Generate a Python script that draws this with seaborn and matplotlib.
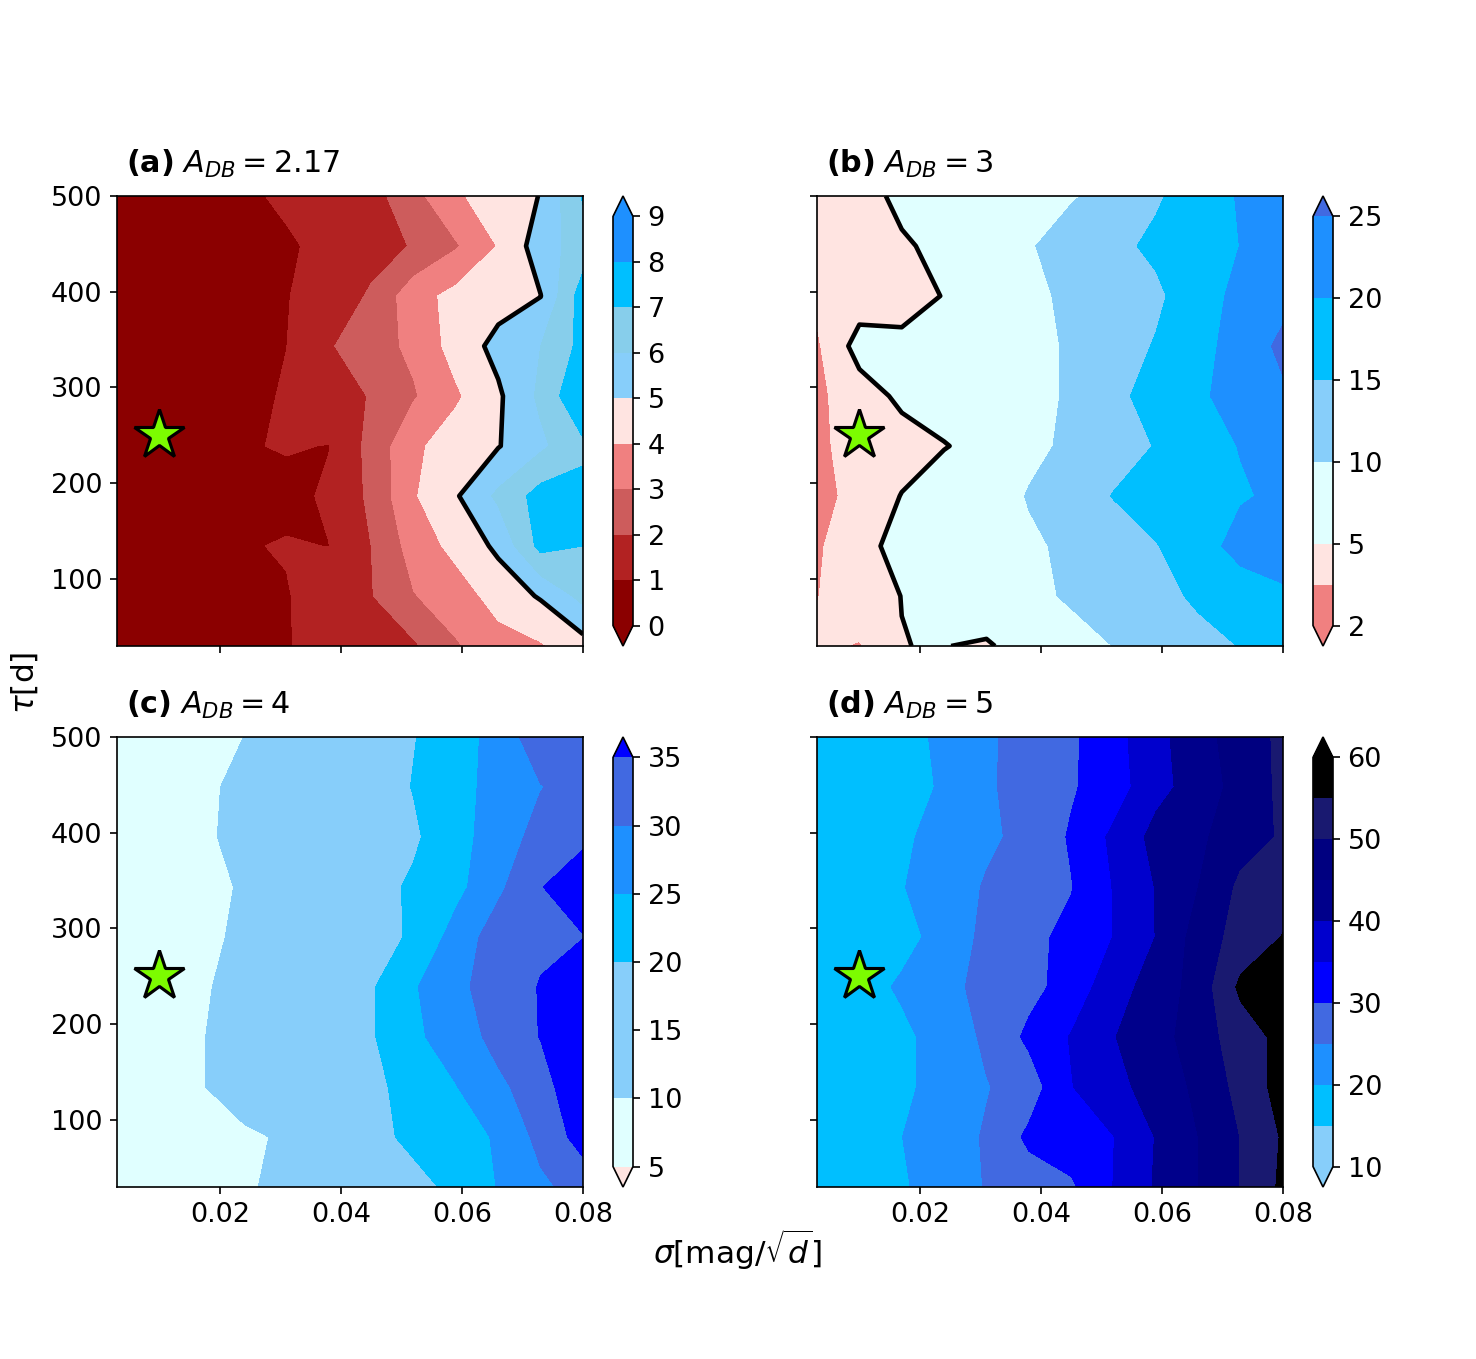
import numpy as np
import matplotlib
matplotlib.use("Agg")
import matplotlib.pyplot as plt
from matplotlib.colors import ListedColormap, BoundaryNorm
import seaborn as sns

sns.set_style("ticks", {"axes.edgecolor": "black", "xtick.color": "black",
                        "ytick.color": "black", "text.color": "black",
                        "axes.labelcolor": "black"})
plt.rcParams["font.family"] = ["DejaVu Sans"]
plt.rcParams["mathtext.fontset"] = "dejavusans"
plt.rcParams["xtick.labelsize"] = 13
plt.rcParams["ytick.labelsize"] = 13

# grid of the simulations
sigma = [0.003, 0.010, 0.017, 0.024, 0.031, 0.038, 0.045, 0.052, 0.059, 0.066, 0.073, 0.080]
tau = [30.0, 82.2, 134.4, 186.7, 238.9, 291.1, 343.3, 395.6, 447.8, 500.0]

# true parameters of the light curve
star_sigma = 0.01
star_tau = 250

# rows go from tau=30 (bottom) up to tau=500 (top)
grid_a = [
    [0.2, 0.3, 0.4, 0.6, 0.95, 1.3, 1.6, 1.85, 2.9, 3.6, 3.9, 4.6],
    [0.2, 0.3, 0.4, 0.6, 0.95, 1.4, 1.95, 2.95, 3.5, 4.4, 5.1, 6.3],
    [0.2, 0.3, 0.4, 0.95, 1.05, 0.99, 2.0, 3.4, 4.3, 5.2, 7.3, 7.0],
    [0.2, 0.3, 0.4, 0.6, 0.8, 1.1, 2.2, 3.9, 4.9, 6.2, 7.4, 7.3],
    [0.2, 0.3, 0.45, 0.95, 1.05, 0.98, 2.3, 3.8, 4.5, 4.95, 5.8, 6.8],
    [0.2, 0.3, 0.45, 0.7, 1.1, 1.6, 2.05, 2.9, 3.85, 4.85, 6.2, 8.0],
    [0.2, 0.3, 0.45, 0.7, 0.99, 1.9, 2.6, 3.2, 4.4, 5.3, 6.0, 7.3],
    [0.2, 0.3, 0.4, 0.6, 0.95, 1.5, 2.1, 3.6, 4.3, 4.6, 4.98, 7.5],
    [0.2, 0.3, 0.4, 0.6, 0.85, 1.3, 1.7, 2.05, 2.9, 4.05, 5.5, 6.5],
    [0.2, 0.3, 0.5, 0.8, 1.2, 1.4, 1.6, 2.7, 3.8, 4.7, 5.02, 7.1],
]
grid_b = [
    [3.8, 3.4, 4.97, 5.1, 4.5, 7.0, 8.5, 10.05, 12.0, 14.0, 15.1, 17.0],
    [3.45, 4.4, 5.02, 6.5, 8.0, 9.0, 10.5, 12.0, 14.0, 15.5, 17.0, 19.5],
    [3.3, 4.5, 5.5, 7.0, 8.5, 9.5, 10.6, 12.5, 14.8, 17.5, 22.0, 21.5],
    [3.0, 4.0, 5.05, 6.8, 8.2, 10.2, 12.5, 15.2, 17.0, 18.5, 19.5, 21.0],
    [3.3, 3.9, 4.4, 4.85, 6.0, 9.2, 10.6, 13.0, 15.2, 18.0, 20.2, 21.5],
    [3.2, 4.3, 5.3, 6.5, 8.0, 9.2, 10.3, 14.0, 16.5, 19.0, 22.5, 24.0],
    [3.3, 5.6, 5.3, 6.5, 8.0, 9.2, 10.3, 13.0, 15.3, 19.2, 21.0, 26.5],
    [3.8, 4.2, 4.5, 5.05, 7.0, 9.4, 10.5, 12.5, 14.2, 17.5, 21.5, 23.0],
    [4.0, 4.4, 4.85, 5.3, 8.0, 9.6, 12.0, 14.0, 15.8, 18.5, 20.05, 23.0],
    [4.0, 4.5, 5.3, 6.5, 7.5, 8.5, 9.6, 11.5, 14.5, 17.0, 20.5, 22.0],
]
grid_c = [
    [6, 7, 8, 9.5, 11, 13.5, 16, 18, 21.5, 25.2, 29, 32],
    [6, 7, 8, 9.3, 10.5, 14, 18, 21.5, 23, 25.5, 31.5, 37],
    [6, 7.5, 9.8, 12, 14.5, 17, 19, 21.5, 24.8, 29, 32.5, 40],
    [6, 7.5, 9.8, 12, 14.5, 17, 19.5, 24, 27.5, 31.5, 35.2, 38],
    [6, 7.5, 9.5, 11.5, 14, 17, 19.5, 24.5, 29, 32, 35.3, 38],
    [6, 7, 9.0, 10.8, 13, 16, 18.5, 20.5, 27, 32.5, 34, 34.9],
    [6, 7, 8.5, 10.5, 13, 15.5, 18, 20.8, 23.5, 29, 34.9, 36.5],
    [6, 7.2, 9.3, 11.2, 13, 15, 17, 19.2, 23.5, 27, 32, 34.5],
    [6, 7, 9.2, 11, 13, 15.5, 17.5, 20.2, 23.5, 26.5, 29.8, 32],
    [6, 7, 8.5, 10.02, 12.5, 15, 17.5, 19.8, 22.5, 27, 33, 34],
]
grid_d = [
    [16, 17.5, 19.5, 22, 25.3, 27.5, 29.2, 35.1, 40.5, 45, 50.1, 56],
    [16, 17.5, 19.95, 22.5, 25.5, 31, 33, 34.9, 40.2, 45, 50.1, 55.5],
    [16, 17.5, 19.2, 21.5, 24.7, 27.5, 34.8, 38.5, 42, 46, 51.5, 57],
    [16, 17.5, 19.2, 21.5, 26, 31, 35.3, 39.8, 43, 47.5, 52.5, 56.5],
    [16.5, 18.5, 20.5, 23.5, 26.5, 28.5, 32, 38, 42, 47, 56, 58],
    [16, 17.5, 18.9, 21.2, 26.5, 29, 31, 35.1, 40.1, 47, 52, 55.2],
    [16, 17.5, 19.8, 22, 25.5, 27.5, 29.8, 35.2, 40.2, 45, 51, 53],
    [16, 17.5, 19.3, 21.5, 24.0, 26.5, 30.5, 36, 41.5, 44, 48, 50.5],
    [16, 17.5, 19, 20.3, 24.3, 27, 29.5, 32.5, 38.5, 42, 47, 51],
    [16, 17.5, 18.8, 20.7, 24, 27.5, 29.2, 33.2, 38.5, 43, 47.5, 51],
]

a_db = ["2.17", "3", "4", "5"]

# contour levels and colours of each panel
levels_a = [0, 1, 2, 3, 4, 5, 6, 7, 8, 9]
colors_a = ["darkred", "firebrick", "indianred", "lightcoral", "mistyrose",
            "lightskyblue", "skyblue", "deepskyblue", "dodgerblue"]
levels_b = [2, 3.5, 5, 7.5, 10, 12.5, 15, 17.5, 20, 22.5, 25]
colors_b = ["lightcoral", "mistyrose", "lightcyan", "lightcyan", "lightskyblue",
            "lightskyblue", "deepskyblue", "deepskyblue", "dodgerblue", "dodgerblue"]
levels_c = [5, 10, 15, 20, 25, 30, 35]
colors_c = ["lightcyan", "lightskyblue", "lightskyblue", "deepskyblue", "dodgerblue", "royalblue"]
levels_d = [10, 15, 20, 25, 30, 35, 40, 45, 50, 55, 60]
colors_d = ["lightskyblue", "deepskyblue", "dodgerblue", "royalblue", "blue",
            "mediumblue", "darkblue", "navy", "midnightblue", "black"]

panels = [
    ("a", grid_a, levels_a, colors_a, "darkred", "dodgerblue", list(range(10)), True),
    ("b", grid_b, levels_b, colors_b, "lightcoral", "royalblue", [2, 5, 10, 15, 20, 25], True),
    ("c", grid_c, levels_c, colors_c, "mistyrose", "blue", [5, 10, 15, 20, 25, 30, 35], False),
    ("d", grid_d, levels_d, colors_d, "lightskyblue", "black", [10, 20, 30, 40, 50, 60], False),
]

W, H = 1477, 1359
fig = plt.figure(figsize=(W / 150, H / 150), dpi=150)


def rect(x0, y0, x1, y1):
    return [x0 / W, 1 - y1 / H, (x1 - x0) / W, (y1 - y0) / H]


ax_boxes = [rect(117, 196, 583, 646), rect(817, 196, 1283, 646),
            rect(117, 737, 583, 1187), rect(817, 737, 1283, 1187)]
# colorbar boxes include the extend triangles
cb_boxes = [rect(613, 196, 633, 646), rect(1313, 196, 1333, 646),
            rect(613, 737, 633, 1187), rect(1313, 737, 1333, 1187)]

for i, (tag, grid, levels, cols, under, over, cticks, line5) in enumerate(panels):
    ax = fig.add_axes(ax_boxes[i])
    cmap = ListedColormap(cols).with_extremes(under=under, over=over)
    norm = BoundaryNorm(levels, len(cols))
    Z = np.array(grid)
    cf = ax.contourf(sigma, tau, Z, levels=levels, cmap=cmap, norm=norm, extend="both")
    if line5:
        ax.contour(sigma, tau, Z, levels=[5], colors="k", linewidths=2.2)
    ax.plot(star_sigma, star_tau, marker="*", ms=25, mfc="lawngreen", mec="k",
            mew=1.5, ls="none", zorder=5)
    ax.set_xlim(sigma[0], sigma[-1])
    ax.set_ylim(tau[0], tau[-1])
    ax.set_xticks([0.02, 0.04, 0.06, 0.08])
    ax.set_yticks([100, 200, 300, 400, 500])
    ax.tick_params(labelbottom=(i >= 2), labelleft=(i % 2 == 0))
    ax.set_title(r"$\mathbf{(" + tag + r")}$ $A_{DB} = " + a_db[i] + "$",
                 loc="left", x=0.02, fontsize=14.5, pad=11)
    cax = fig.add_axes(cb_boxes[i])
    cb = fig.colorbar(cf, cax=cax, ticks=cticks)
    cb.minorticks_off()
    cb.ax.tick_params(labelsize=13)

fig.text(25 / W, 1 - 683 / H, r"$\tau$[d]", rotation=90, ha="center", va="center", fontsize=15)
fig.text(738 / W, 1 - 1250 / H, r"$\sigma$[mag/$\sqrt{d}$]", ha="center", va="center", fontsize=15)

fig.savefig("out.png", dpi=150)
